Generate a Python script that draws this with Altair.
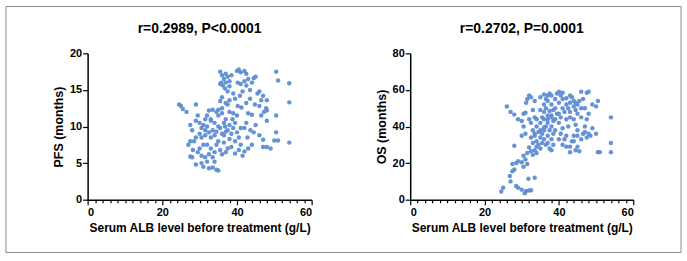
import altair as alt
import pandas as pd

# ---- data ----
pfs_alb = [35.5, 36, 36.5, 35.8, 36.2, 37, 37.5, 38, 36.8, 37.5,
           38.5, 35.5, 37, 38, 39, 40, 40.5, 41, 42, 42.5,
           40.2, 41, 42, 42.5, 43, 44, 44.5, 45, 43.5, 41.5,
           40.8, 39.5, 38, 36, 37, 45.5, 46, 47, 46.5, 44.8,
           48, 48, 46, 47.2, 42.5, 43.5, 41.2, 50.5, 51, 54,
           54, 50.5, 54, 51, 50, 50.5, 48, 47.8, 46.5, 45,
           44.5, 43.6, 42.8, 46, 47, 47, 49, 48, 44, 43,
           42, 41, 40.5, 39.5, 41.5, 38.5, 37.5, 38, 36.5, 35,
           35.5, 37, 36, 34, 33.5, 32.5, 31.5, 30.5, 29.5, 28,
           27.5, 29, 31, 32.5, 33.5, 34.5, 35, 32, 30.5, 34,
           33, 31, 30, 28.5, 27.5, 29, 27.5, 28, 29, 30,
           30.5, 31, 31.5, 32, 32.5, 33.5, 34.5, 35, 36, 33,
           34, 35, 33.5, 32.5, 31.5, 30.5, 31.5, 32, 33, 34,
           34.5, 35.5, 36, 36.5, 37, 37.5, 38, 38.5, 39, 39.5,
           40, 39, 38, 37.5, 36, 35.5, 40, 41, 40.5, 39.5,
           42, 42.5, 43, 44, 40.2, 24.5, 25, 25.5, 26.5, 29,
           27, 28.2, 36.5, 37, 34.5, 32, 30, 29.5, 33, 35,
           36.8, 38.8]
pfs_months = [17.5, 17, 16.5, 16.0, 15.6, 17.2, 16.8, 16.2, 15.2, 14.8,
              17.0, 15.8, 16.0, 15.5, 14.5, 17.6, 17.8, 17.4, 17.6, 17.2,
              16.0, 15.8, 16.2, 15.6, 16.5, 16.0, 16.6, 16.8, 15.0, 14.8,
              14.2, 13.8, 13.6, 14.0, 13.2, 14.5, 14.8, 14.2, 13.6, 13.0,
              13.6, 12.2, 12.8, 12.0, 13.2, 13.8, 12.6, 17.5, 16.3, 15.9,
              13.3, 11.5, 7.8, 8.1, 8.1, 9.2, 10.8, 12.5, 11.5, 10.2,
              9.2, 9.5, 8.5, 8.8, 8.2, 7.2, 7.0, 7.2, 7.5, 7.0,
              6.6, 7.5, 6.8, 6.3, 6.0, 7.2, 7.0, 8.3, 7.8, 8.0,
              6.8, 6.5, 6.2, 6.5, 5.8, 6.2, 5.8, 6.0, 6.5, 5.8,
              5.9, 4.8, 4.5, 4.3, 4.4, 4.1, 4.0, 5.2, 5.0, 5.2,
              7.0, 7.5, 7.0, 8.0, 8.0, 8.5, 10.2, 9.5, 10.8, 10.5,
              9.8, 10.2, 11.0, 11.5, 12.2, 12.3, 12.0, 11.5, 11.8, 10.8,
              10.5, 10.0, 9.5, 9.2, 8.8, 8.5, 9.5, 10.0, 8.5, 8.8,
              9.3, 9.8, 9.0, 10.5, 11.0, 9.5, 10.2, 9.0, 9.8, 10.5,
              11.5, 11.8, 12.0, 13.0, 12.5, 13.5, 9.2, 9.8, 8.5, 8.0,
              9.8, 10.5, 11.8, 11.6, 12.8, 13.0, 12.8, 12.4, 12.0, 13.0,
              7.5, 6.8, 8.8, 9.3, 7.5, 7.5, 9.0, 11.5, 11.0, 12.3,
              10.0, 11.0]

os_alb = [24.5, 25, 27, 26.8, 27.5, 28, 27.5, 28.5, 29, 30,
          30.5, 31, 31.5, 28.5, 29, 30, 30.8, 31.2, 32, 32.5,
          31.8, 33.5, 28, 30.5, 31.5, 32.5, 32, 33, 33.5, 34,
          26, 27, 28, 29, 30, 30.5, 30.5, 31, 31.5, 32,
          31.2, 32.5, 33, 33.5, 32.5, 33, 33.5, 34, 34.5, 35,
          35.5, 35, 34.5, 34, 35, 35.5, 36, 36, 36.5, 37,
          37.5, 36.5, 37, 37, 37.5, 37, 36, 36.5, 37.5, 38,
          38.5, 38, 38.5, 38, 38.5, 38, 38.5, 38, 39, 39.5,
          40, 40.5, 40, 41, 41.5, 40.5, 40, 41, 40.5, 41,
          42, 42, 42.5, 43, 42.5, 43, 43.5, 44, 44.5, 45,
          44, 44.5, 45, 44, 43.5, 43, 44.5, 45, 45.5, 46,
          46.5, 47, 47.5, 48, 46, 46.5, 47.5, 48, 45.5, 44.5,
          49, 50, 50.5, 49, 50, 48.5, 47.5, 50.5, 51, 54,
          54, 54, 36, 35.5, 36, 39, 39.5, 38, 37, 36.5,
          39, 41, 42, 43, 42, 40, 39, 40, 41.5, 33.5,
          32.5, 33, 34, 35, 34, 35, 33.5, 35, 36, 37,
          38, 41, 42, 43, 44, 45, 46, 47, 46, 47,
          48, 45, 44, 43, 30, 32, 31, 37.5, 36, 37]
os_months = [4.5, 6.5, 10, 13, 15.5, 16.5, 19.5, 20, 21, 20.5,
             18, 22, 19.5, 7.5, 6.5, 5.5, 3.5, 4.8, 5, 5.2,
             11.5, 12, 29.5, 24, 25.5, 26.5, 28.5, 24.5, 27, 25.5,
             51, 48, 46.5, 44, 43, 47, 40, 36, 55, 57,
             53, 56, 49, 45, 42, 38, 35, 32, 30, 28,
             31, 34, 37, 40, 42, 45, 48, 52, 55, 57,
             58, 50, 46, 42, 38, 35, 33, 30, 28, 27,
             30, 33, 36, 40, 43, 46, 49, 52, 55, 58,
             59, 57, 53, 50, 48, 45, 42, 39, 36, 30,
             29, 35, 40, 45, 50, 53, 56, 51, 49, 47,
             44, 41, 38, 35, 32, 26, 27, 29, 26.5, 33,
             36, 40, 44, 47, 59, 55, 58.5, 59, 54, 53,
             52, 51, 54, 39, 36, 35, 34, 26, 26, 45,
             31, 26, 38, 36, 39.5, 44, 47, 45, 44, 40,
             50, 55, 52, 48, 44, 47, 38, 33, 33, 36,
             34, 31, 29, 38, 44, 49, 54, 56, 57.5, 54,
             57, 58.5, 55.5, 57, 54, 52, 50, 50, 45, 37,
             36, 35, 32, 29, 35, 44, 47.5, 48.5, 44, 31]

titles = ["r=0.2989, P<0.0001", "r=0.2702, P=0.0001"]
x_title = "Serum ALB level before treatment (g/L)"
y_titles = ["PFS (months)", "OS (months)"]
x_ticks = [0, 20, 40, 60]
pfs_ticks = [0, 5, 10, 15, 20]
os_ticks = [0, 20, 40, 60, 80]

FONT = "Liberation Sans"
DOT = "#5E8DD3"
PLOT_H = 147


def panel(xs, ys, ytitle, ymax, yticks, title, width, border=None):
    df = pd.DataFrame({"alb": xs, "val": ys})
    x_axis = alt.Axis(
        values=list(range(0, 61, 2)),
        labelExpr="datum.value % 20 === 0 ? datum.label : ''",
        labelOverlap=False,
        tickSize={"condition": {"test": "datum.value % 20 === 0", "value": 5}, "value": 3},
        title=x_title, grid=False, domainColor="black", tickColor="black",
        domainWidth=1.5, tickWidth=1.2, labelFont=FONT, labelFontSize=11,
        labelFontWeight="bold", labelColor="black", labelPadding=2,
        titleFont=FONT, titleFontSize=12, titleFontWeight="bold",
        titleColor="black", titlePadding=5,
    )
    y_axis = alt.Axis(
        values=yticks, title=ytitle, grid=False, domainColor="black",
        tickColor="black", domainWidth=1.5, tickWidth=1.2, tickSize=5,
        labelFont=FONT, labelFontSize=11, labelFontWeight="bold",
        labelColor="black", labelPadding=1, titleFont=FONT,
        titleFontSize=12.5, titleFontWeight="bold", titleColor="black",
        titlePadding=4,
    )
    pts = alt.Chart(df).mark_circle(size=20, color=DOT, opacity=0.95).encode(
        x=alt.X("alb:Q", scale=alt.Scale(domain=[0, 60], nice=False), axis=x_axis),
        y=alt.Y("val:Q", scale=alt.Scale(domain=[0, ymax], nice=False), axis=y_axis),
    )
    one = pd.DataFrame({"label": [title]})
    head = alt.Chart(one).mark_text(
        font=FONT, fontSize=14, fontWeight="bold", color="black",
        align="center", baseline="middle",
    ).encode(x=alt.value(width / 2), y=alt.value(-24), text="label:N")
    layers = [pts, head]
    if border is not None:
        frame = alt.Chart(pd.DataFrame({"k": [0]})).mark_rect(
            fill="transparent", stroke="#8a8a8a", strokeWidth=1
        ).encode(
            x=alt.value(border[0]), x2=alt.value(border[1]),
            y=alt.value(border[2]), y2=alt.value(border[3]),
        )
        layers.append(frame)
    return alt.layer(*layers).properties(width=width, height=PLOT_H)


left = panel(pfs_alb, pfs_months, y_titles[0], 20, pfs_ticks, titles[0], 225,
             border=(-82, 596, -47, 200))
right = panel(os_alb, os_months, y_titles[1], 80, os_ticks, titles[1], 224)

chart = alt.hconcat(left, right, spacing=99, bounds="flush").properties(
    padding={"left": 5, "top": 5, "right": 5, "bottom": 5},
    background="white",
).configure_view(stroke=None)

chart.save("out.html", embed_options={"renderer": "svg", "actions": False})
